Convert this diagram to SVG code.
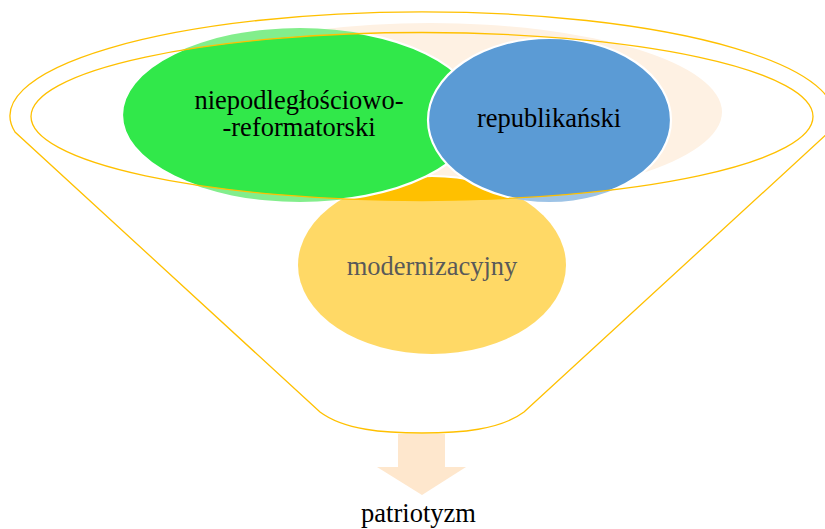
<svg xmlns="http://www.w3.org/2000/svg" width="825" height="529" viewBox="0 0 825 529">
  <style>
    .lbl { font-family: "Liberation Serif", "Times New Roman", serif; font-size: 26.5px; text-anchor: middle; fill: #000; }
    .rim { fill: none; stroke: #FFC000; stroke-width: 1.3; }
    .edge { fill: none; stroke: #FFFFFF; stroke-width: 2.2; }
  </style>
  <defs>
    <clipPath id="innerClip">
      <ellipse cx="422" cy="116.5" rx="391" ry="84"/>
    </clipPath>
  </defs>
  <rect width="825" height="529" fill="#FFFFFF"/>

  <!-- funnel body -->
  <path id="funnel" class="rim" d="M 15,132 A 412 104 0 1 1 829,132 L 524,412 C 500,430 460,433 422,433 C 384,433 344,430 320,412 Z"/>

  <!-- connector: down arrow -->
  <g id="connectors">
    <polygon points="398,434 445,434 445,467 466,467 422,495 377,467 398,467" fill="#FEE7CD"/>
  </g>

  <!-- faded background circle -->
  <g id="ghost">
    <ellipse cx="430" cy="112" rx="292" ry="89" fill="#FEF1E3"/>
  </g>

  <g id="node-modernizacyjny">
    <ellipse cx="432" cy="265" rx="134" ry="89" fill="#FFD966"/>
    <ellipse cx="432" cy="265" rx="134" ry="89" fill="#FFC000" clip-path="url(#innerClip)"/>
    <ellipse class="edge" cx="432" cy="265" rx="134" ry="89" clip-path="url(#innerClip)"/>
    <text class="lbl" x="432" y="275" style="fill:#595959">modernizacyjny</text>
  </g>

  <g id="node-niepodleglosciowo">
    <ellipse cx="300" cy="115" rx="178" ry="87" fill="#82EE8C"/>
    <ellipse cx="300" cy="115" rx="178" ry="87" fill="#31E84A" clip-path="url(#innerClip)"/>
    <ellipse class="edge" cx="300" cy="115" rx="178" ry="87" clip-path="url(#innerClip)"/>
    <text class="lbl" x="299" y="109">niepodległościowo-</text>
    <text class="lbl" x="299" y="135.5">-reformatorski</text>
  </g>

  <g id="node-republikanski">
    <ellipse cx="549.5" cy="120" rx="121.5" ry="82" fill="#9DC3E6"/>
    <ellipse cx="549.5" cy="120" rx="121.5" ry="82" fill="#5B9BD5" clip-path="url(#innerClip)"/>
    <ellipse class="edge" cx="549.5" cy="120" rx="121.5" ry="82" clip-path="url(#innerClip)"/>
    <text class="lbl" x="549" y="127">republikański</text>
  </g>

  <!-- funnel rim -->
  <ellipse id="rim" class="rim" cx="422" cy="116.5" rx="391" ry="84"/>

  <g id="node-patriotyzm">
    <text class="lbl" x="418.5" y="522">patriotyzm</text>
  </g>
</svg>
